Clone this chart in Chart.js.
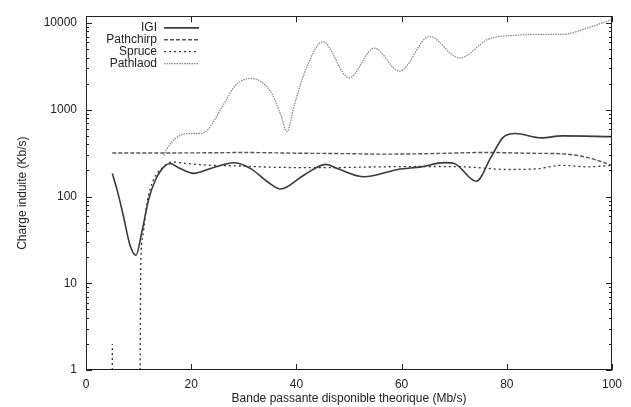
<!DOCTYPE html>
<html><head><meta charset="utf-8">
<script src="https://cdn.jsdelivr.net/npm/chart.js@4/dist/chart.umd.min.js"></script>
<style>html,body{margin:0;padding:0;background:#fff}#wrap{width:631px;height:407px}</style>
</head><body><div id="wrap"><canvas id="c" width="631" height="407"></canvas></div>
<script>
const seriesNames = ['IGI', 'Pathchirp', 'Spruce', 'Pathlaod'];

const igiX = [5, 5.9, 7.1, 8.4, 9.5, 10.6, 11.9, 13.2, 14.8, 16, 17.9, 20.5, 23.7, 28.1, 31.3, 34.5, 37, 41.4, 45.6, 47.8, 52.9, 59.3, 63.7, 68.1, 70, 74.2, 77, 79.3, 81.6, 86.6, 90.5, 100];
const igiY = [185, 120, 60, 27, 21, 38.5, 92, 155, 220, 240, 210, 185, 210, 245, 210, 148, 122, 176, 235, 210, 169, 205, 220, 246, 240, 150, 285, 480, 533, 475, 500, 490];

const pathchirpX = [5, 15, 25, 30, 40, 50, 56, 65, 76, 85, 90, 95, 100];
const pathchirpY = [318, 318, 320, 322, 316, 312, 308, 312, 322, 315, 312, 285, 229];

const spruceX = [5, 5, 7, 10.3, 10.35, 10.4, 10.8, 11.6, 12.8, 14.4, 16.4, 19.2, 23.7, 28, 35, 45, 56, 65, 72, 80.3, 85.4, 90.5, 95.5, 100];
const spruceY = [1, 2, null, 1, 5, 15, 35, 84, 155, 210, 250, 240, 229, 226, 218, 215, 220, 222, 220, 205, 208, 229, 220, 229];

const pathlaodX = [14.75, 15.4, 16.4, 17.6, 19.2, 21.8, 23, 24.3, 26.1, 28.5, 31.3, 35.1, 37, 38.2, 39.6, 42.1, 45, 50, 54.8, 59.6, 65.3, 71, 76.5, 81.5, 86.6, 90.5, 95.5, 100];
const pathlaodY = [298, 355, 430, 495, 533, 533, 575, 740, 1140, 1930, 2300, 1620, 885, 560, 1140, 3240, 6090, 2340, 5130, 2790, 7000, 3950, 6530, 7230, 7400, 7400, 8850, 11000];

const xTicks = [0, 20, 40, 60, 80, 100];
const yMajorTicks = [1, 10, 100, 1000, 10000];
const yAllTicks = [];
yMajorTicks.forEach(d => { for (let m = 1; m <= 9; m++) { const v = d * m; if (v <= 10000) yAllTicks.push(v); } });

const xTitle = 'Bande passante disponible theorique (Mb/s)';
const yTitle = 'Charge induite (Kb/s)';

const pts = (xs, ys) => xs.map((x, i) => ({x: x, y: ys[i]}));

const FONT = 'Liberation Sans, Arial, Helvetica, sans-serif';
const TXT = '#222';

const styles = [
  {borderColor: '#3a3a3a', borderWidth: 1.6, borderDash: []},
  {borderColor: '#555', borderWidth: 1.4, borderDash: [4, 2]},
  {borderColor: '#333', borderWidth: 1.3, borderDash: [2, 3]},
  {borderColor: '#8c8c8c', borderWidth: 1.3, borderDash: [1.5, 1]}
];
const dataArr = [pts(igiX, igiY), pts(pathchirpX, pathchirpY), pts(spruceX, spruceY), pts(pathlaodX, pathlaodY)];

const framePlugin = {
  id: 'frame',
  afterDraw(chart) {
    const ctx = chart.ctx, a = chart.chartArea;
    const xs = chart.scales.x, ys = chart.scales.y;
    ctx.save();
    ctx.strokeStyle = TXT; ctx.lineWidth = 1; ctx.setLineDash([]);
    ctx.strokeRect(Math.round(a.left) + 0.5, Math.round(a.top) + 0.5, Math.round(a.right - a.left) - 1, Math.round(a.bottom - a.top) - 1);
    ctx.beginPath();
    yAllTicks.forEach(v => {
      const p = Math.round(ys.getPixelForValue(v)) + 0.5;
      const len = yMajorTicks.includes(v) ? 6 : 3;
      ctx.moveTo(a.left, p); ctx.lineTo(a.left + len, p);
      ctx.moveTo(a.right, p); ctx.lineTo(a.right - len, p);
    });
    xTicks.forEach(v => {
      const p = Math.round(xs.getPixelForValue(v)) + 0.5;
      ctx.moveTo(p, a.bottom); ctx.lineTo(p, a.bottom - 6);
      ctx.moveTo(p, a.top); ctx.lineTo(p, a.top + 6);
    });
    ctx.stroke();
    // legend (gnuplot style)
    ctx.font = '12px ' + FONT;
    ctx.textAlign = 'right'; ctx.textBaseline = 'middle';
    chart.data.datasets.forEach((ds, i) => {
      const y = a.top + 11.7 + i * 11.9;
      ctx.fillStyle = TXT;
      ctx.fillText(ds.label, a.left + 71, y);
      ctx.beginPath();
      ctx.strokeStyle = ds.borderColor; ctx.lineWidth = ds.borderWidth;
      ctx.setLineDash(ds.borderDash || []);
      ctx.moveTo(a.left + 78, y); ctx.lineTo(a.left + 113, y);
      ctx.stroke();
    });
    ctx.restore();
  }
};

new Chart(document.getElementById('c'), {
  type: 'line',
  data: {
    datasets: seriesNames.map((n, i) => Object.assign({
      label: n,
      data: dataArr[i],
      fill: false,
      pointRadius: 0,
      cubicInterpolationMode: 'monotone',
      spanGaps: false
    }, styles[i]))
  },
  options: {
    responsive: false,
    animation: false,
    devicePixelRatio: 1,
    layout: {padding: {top: 11, right: 19, bottom: 0, left: 0}},
    plugins: {legend: {display: false}, tooltip: {enabled: false}},
    scales: {
      x: {
        type: 'linear', min: 0, max: 100,
        afterBuildTicks: s => { s.ticks = xTicks.map(v => ({value: v})); },
        afterFit: s => { s.height = 37; },
        grid: {display: false, drawTicks: false},
        border: {display: false},
        ticks: {color: TXT, font: {family: FONT, size: 12}, padding: 7, maxRotation: 0, autoSkip: false},
        title: {display: true, text: xTitle, color: TXT, font: {family: FONT, size: 12}, padding: {top: 0, bottom: 1}}
      },
      y: {
        type: 'logarithmic', min: 1, max: 12000,
        afterBuildTicks: s => { s.ticks = yAllTicks.map(v => ({value: v, major: yMajorTicks.includes(v)})); },
        afterFit: s => { s.width = 86; },
        grid: {display: false, drawTicks: false},
        border: {display: false},
        ticks: {
          color: TXT, font: {family: FONT, size: 12}, padding: 9, autoSkip: false,
          callback: v => yMajorTicks.includes(v) ? String(v) : ''
        },
        title: {display: true, text: yTitle, color: TXT, font: {family: FONT, size: 12}, padding: {top: 15, bottom: 0}}
      }
    }
  },
  plugins: [framePlugin]
});
</script>
</body></html>
